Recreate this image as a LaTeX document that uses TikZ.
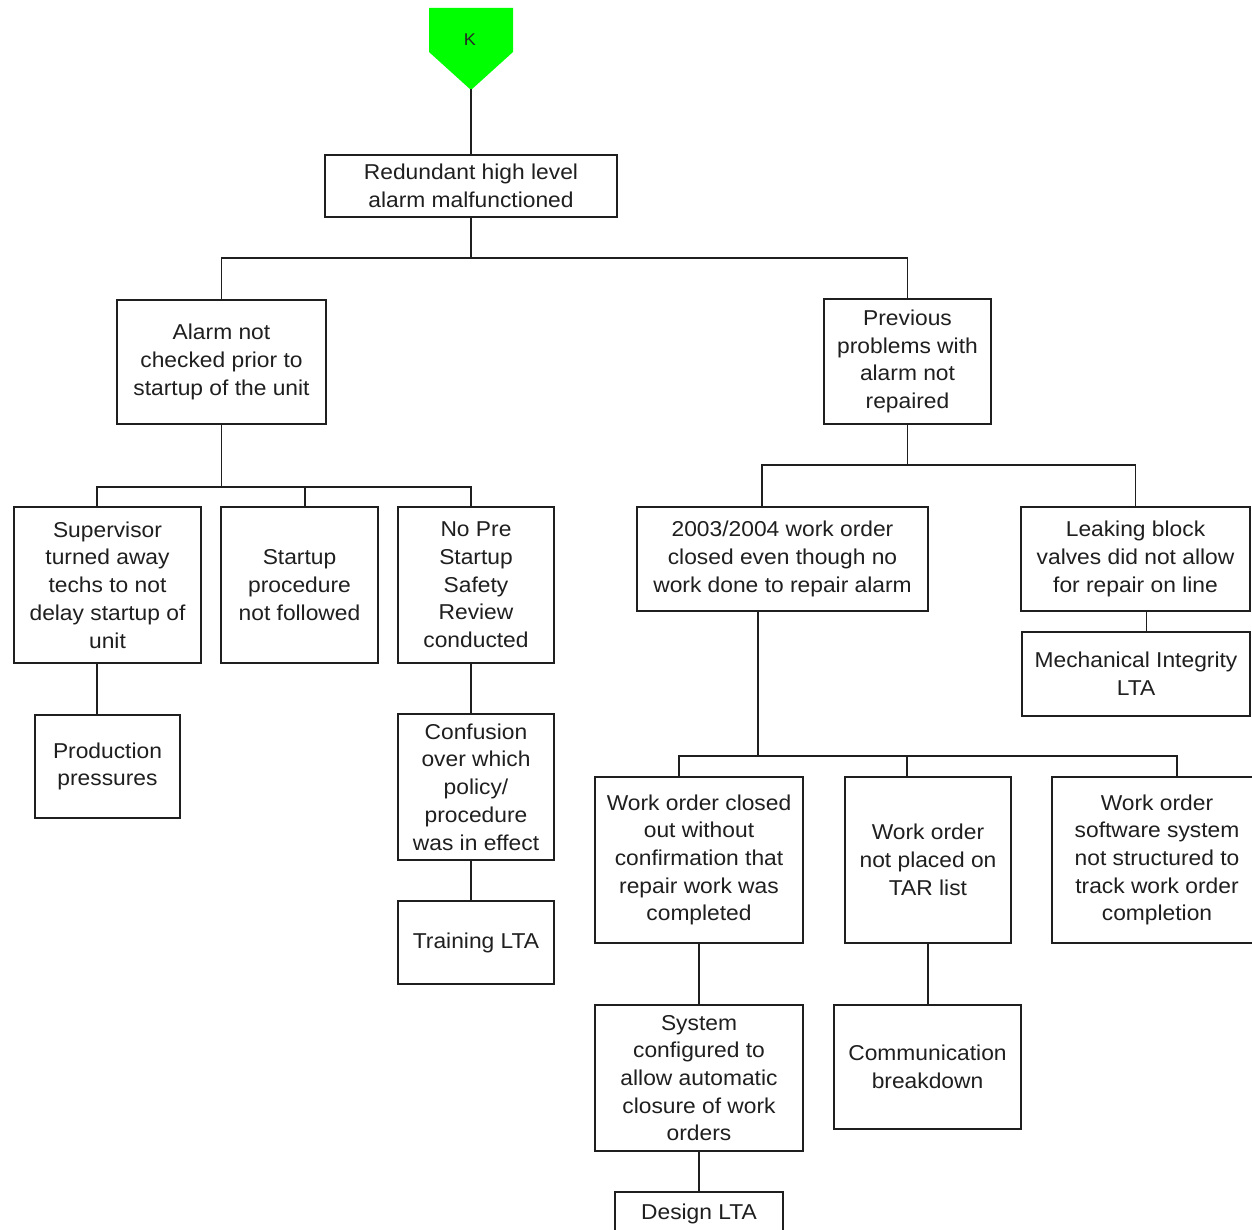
\documentclass[tikz,border=0pt]{standalone}
\usepackage{fontspec}
\setmainfont{Liberation Sans}[FakeStretch=1.06]
\begin{document}
\begin{tikzpicture}[x=1pt,y=-1pt,
  ink/.style={draw=black!88, line width=1.7pt},
  box/.style={ink, rectangle, inner sep=0pt, align=center, text=black!88,
    font=\fontsize{21.5}{27.7}\selectfont},
  conn/.style={ink, line cap=rect}]
\useasboundingbox (0,0) rectangle (1252,1230);
\fill[white] (0,0) rectangle (1252,1230);

% top event marker
\fill[fill=green] (429,8) -- (513,8) -- (513,52) -- (471,90) -- (429,52) -- cycle;
\node[font=\fontsize{17}{19}\selectfont, text=black!85] (k) at (470,40) {K};
\coordinate (kpt) at (471,90);

% boxes
\node[box, minimum width=292, minimum height=62] (top) at (471,186)
  {Redundant high level\\alarm malfunctioned};
\node[box, minimum width=209, minimum height=124] (alarm) at (221.5,362)
  {Alarm not\\checked prior to\\startup of the unit};
\node[box, minimum width=167, minimum height=125] (prev) at (907.5,361.5)
  {Previous\\problems with\\alarm not\\repaired};
\node[box, minimum width=187, minimum height=156] (sup) at (107.5,585)
  {Supervisor\\turned away\\techs to not\\delay startup of\\unit};
\node[box, minimum width=157, minimum height=156] (startup) at (299.5,585)
  {Startup\\procedure\\not followed};
\node[box, minimum width=156, minimum height=156] (nopre) at (476,585)
  {No Pre\\Startup\\Safety\\Review\\conducted};
\node[box, minimum width=145, minimum height=103] (prod) at (107.5,766.5)
  {Production\\pressures};
\node[box, minimum width=156, minimum height=146] (confusion) at (476,787)
  {Confusion\\over which\\policy/\\procedure\\was in effect};
\node[box, minimum width=156, minimum height=83] (training) at (476,942.5)
  {Training LTA};
\node[box, minimum width=291, minimum height=104] (wo2003) at (782.5,559)
  {2003/2004 work order\\closed even though no\\work done to repair alarm};
\node[box, minimum width=229, minimum height=104] (leak) at (1135.5,559)
  {Leaking block\\valves did not allow\\for repair on line};
\node[box, minimum width=228, minimum height=84] (mech) at (1136,674)
  {Mechanical Integrity\\LTA};
\node[box, minimum width=208, minimum height=166] (woclosed) at (699,860)
  {Work order closed\\out without\\confirmation that\\repair work was\\completed};
\node[box, minimum width=166, minimum height=166] (wonot) at (928,860)
  {Work order\\not placed on\\TAR list};
\node[box, minimum width=210, minimum height=166] (wosoft) at (1157,860)
  {Work order\\software system\\not structured to\\track work order\\completion};
\node[box, minimum width=208, minimum height=146] (system) at (699,1078)
  {System\\configured to\\allow automatic\\closure of work\\orders};
\node[box, minimum width=187, minimum height=124] (comm) at (927.5,1067)
  {Communication\\breakdown};
\node[box, minimum width=168, minimum height=44] (design) at (699,1214)
  {\raisebox{3pt}{Design LTA}};

% bus levels
\coordinate (b1) at (0,258);
\coordinate (b2) at (0,487);
\coordinate (b3) at (0,465);
\coordinate (b4) at (0,756);

% connectors
\draw[conn] (kpt) -- (top.north);
\draw[conn] (top.south) -- (top.south |- b1);
\draw[conn] (alarm.north) |- (prev.north |- b1) -- (prev.north);

\draw[conn] (alarm.south) -- (alarm.south |- b2);
\draw[conn] ([xshift=-10.5pt]sup.north) |- ([xshift=-5pt]nopre.north |- b2)
  -- ([xshift=-5pt]nopre.north);
\draw[conn] ([xshift=5.5pt]startup.north) -- ([xshift=5.5pt]startup.north |- b2);
\draw[conn] ([xshift=-10.5pt]sup.south) -- ([xshift=-10.5pt]sup.south |- prod.north);
\draw[conn] ([xshift=-5pt]nopre.south) -- ([xshift=-5pt]nopre.south |- confusion.north);
\draw[conn] ([xshift=-5pt]confusion.south) -- ([xshift=-5pt]confusion.south |- training.north);

\draw[conn] (prev.south) -- (prev.south |- b3);
\draw[conn] ([xshift=-20.5pt]wo2003.north) |- (leak.north |- b3) -- (leak.north);
\draw[conn] ([xshift=11pt]leak.south) -- ([xshift=11pt]leak.south |- mech.north);

\draw[conn] ([xshift=-24.5pt]wo2003.south) -- ([xshift=-24.5pt]wo2003.south |- b4);
\draw[conn] ([xshift=-20pt]woclosed.north) |- ([xshift=20pt]wosoft.north |- b4)
  -- ([xshift=20pt]wosoft.north);
\draw[conn] ([xshift=-21pt]wonot.north) -- ([xshift=-21pt]wonot.north |- b4);
\draw[conn] (woclosed.south) -- (system.north);
\draw[conn] (wonot.south) -- (wonot.south |- comm.north);
\draw[conn] (system.south) -- (design.north);
\end{tikzpicture}
\end{document}
